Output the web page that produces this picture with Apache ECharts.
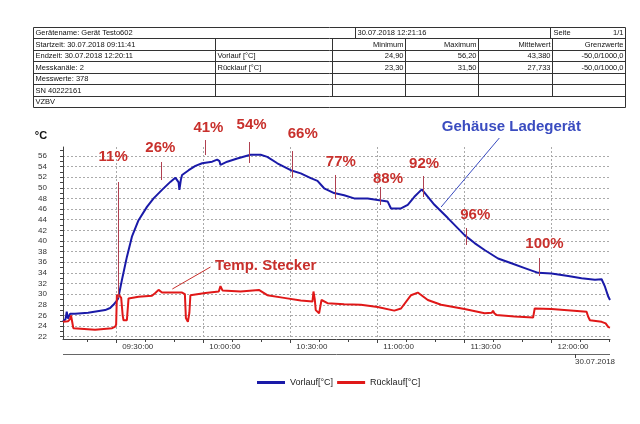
<!DOCTYPE html>
<html><head><meta charset="utf-8">
<script src="https://cdn.jsdelivr.net/npm/echarts@6/dist/echarts.min.js"></script>
<style>html,body{margin:0;padding:0;background:#fff}#c{width:640px;height:424px}</style>
</head><body><div id="c"></div>
<script>
// ---------- data ----------
const vorlaufTimes = ['09:11:41','09:12:33','09:12:58','09:13:25','09:14:06','09:15:50','09:20:20','09:26:12','09:27:56','09:29:04','09:30:15','09:30:42','09:31:58','09:33:42','09:35:26','09:37:43','09:40:37','09:42:54','09:45:48','09:48:40','09:50:24','09:51:05','09:51:32','09:51:47','09:52:18','09:52:43','09:55:00','09:57:19','09:59:38','10:03:05','10:04:49','10:05:37','10:05:57','10:08:16','10:11:44','10:16:19','10:19:47','10:22:05','10:25:33','10:30:09','10:33:37','10:37:04','10:39:23','10:41:40','10:45:07','10:48:34','10:52:02','10:56:40','11:00:07','11:03:35','11:04:43','11:08:10','11:10:29','11:12:46','11:15:20','11:19:41','11:24:19','11:30:04','11:33:31','11:36:58','11:41:36','11:46:12','11:50:48','11:55:25','12:00:01','12:05:47','12:10:23','12:14:59','12:17:18','12:18:27','12:19:37','12:20:11'];
const vorlaufValues = [24.9,25.3,26.7,25.4,26.3,26.3,26.5,27.0,27.4,28.0,28.8,29.2,32.6,37.0,40.8,43.9,46.4,48.0,49.6,51.1,51.9,52.1,51.0,49.6,51.5,52.4,53.3,54.1,54.6,54.9,55.3,55.0,54.3,54.9,55.5,56.2,56.2,55.8,54.6,53.3,52.7,51.8,51.3,49.9,49.0,48.6,48.0,48.0,47.7,47.4,46.1,46.1,46.8,48.3,49.7,46.8,44.3,41.1,39.6,38.3,36.7,35.8,34.9,34.0,33.9,33.4,33.0,32.7,32.8,31.4,29.5,28.9];

const ruecklaufTimes = ['09:11:41','09:13:25','09:14:06','09:14:27','09:14:47','09:15:14','09:15:50','09:22:44','09:28:37','09:29:40','09:30:00','09:30:15','09:31:02','09:31:44','09:32:15','09:32:32','09:33:42','09:34:16','09:37:43','09:42:20','09:43:29','09:44:37','09:45:48','09:52:43','09:53:41','09:54:02','09:54:43','09:55:14','09:55:35','10:00:46','10:05:22','10:05:57','10:06:38','10:12:52','10:19:11','10:22:05','10:27:50','10:33:37','10:37:39','10:38:00','10:38:27','10:38:47','10:39:56','10:40:46','10:42:50','10:48:34','10:54:20','11:00:07','11:05:51','11:08:10','11:11:37','11:13:56','11:17:24','11:21:59','11:30:03','11:36:58','11:39:27','11:39:52','11:40:19','11:41:01','11:47:20','11:53:41','11:54:14','12:00:01','12:12:07','12:12:38','12:13:16','12:17:18','12:18:41','12:19:37','12:20:11'];
const ruecklaufValues = [24.8,24.9,25.3,26.0,25.0,23.6,23.4,23.3,23.6,23.9,24.3,29.8,29.8,29.3,26.0,25.1,25.1,29.2,29.5,29.7,30.2,30.8,30.3,30.3,30.0,25.5,24.8,26.5,29.8,30.2,30.5,31.5,30.7,30.5,30.8,29.8,29.3,28.8,28.6,30.5,29.0,27.0,26.4,28.9,28.3,28.1,28.0,27.6,26.9,27.3,29.8,30.3,28.9,28.0,27.2,26.4,26.5,26.9,26.4,26.1,25.8,25.6,27.3,27.2,26.7,25.8,25.1,24.8,24.5,23.8,23.7];

const seriesNames = ['Vorlauf[°C]', 'Rücklauf[°C]'];
const startTime = '09:11:41';
const endTime = '12:20:11';
const xTickLabels = ['09:30:00','10:00:00','10:30:00','11:00:00','11:30:00','12:00:00'];
const yTickLabels = [22,24,26,28,30,32,34,36,38,40,42,44,46,48,50,52,54,56];
const dateLabel = '30.07.2018';

const percentLabels = ['11%','26%','41%','54%','66%','77%','88%','92%','96%','100%'];
const percentLabelTimes = ['09:28:58','09:45:13','10:01:48','10:16:40','10:34:18','10:47:26','11:03:41','11:16:07','11:33:45','11:57:36'];
const percentLabelValues = [55.78,57.47,61.23,61.79,60.1,54.84,51.64,54.47,44.88,39.42];
const markTimes = ['09:30:15','09:45:02','10:00:25','10:15:32','10:30:23','10:44:55','11:00:28','11:15:26','11:30:17','11:55:25'];
const markTop = [51.08,54.84,58.97,58.6,56.9,52.4,50.14,52.21,42.43,36.79];
const markBottom = [29.27,51.45,56.15,54.65,51.83,47.88,46.76,48.26,39.24,33.41];

const calloutTexts = ['Gehäuse Ladegerät','Temp. Stecker'];
const calloutTextTimes = ['11:46:11','10:21:31'];
const calloutTextValues = [61.42,35.38];
const calloutFromTimes = ['11:42:03','10:02:30'];
const calloutFromValues = [59.35,35.1];
const calloutToTimes = ['11:21:59','09:49:22'];
const calloutToValues = [46.38,30.97];

const tableRow0 = ['Gerätename: Gerät Testo602','30.07.2018 12:21:16','Seite','1/1'];
const tableRows = [
  ['Startzeit: 30.07.2018 09:11:41','','Minimum','Maximum','Mittelwert','Grenzwerte'],
  ['Endzeit: 30.07.2018 12:20:11','Vorlauf [°C]','24,90','56,20','43,380','-50,0/1000,0'],
  ['Messkanäle: 2','Rücklauf [°C]','23,30','31,50','27,733','-50,0/1000,0'],
  ['Messwerte: 378','','','','',''],
  ['SN 40222161','','','','','']
];
const tableLastRow = 'VZBV';

// ---------- helpers ----------
function toMin(s){ const p = s.split(':').map(Number); return p[0]*60 + p[1] + (p[2]||0)/60; }
const xMin = toMin(startTime), xMax = toMin(endTime);
const yMin = 21.57, yMax = 57.66;
const majorX = xTickLabels.map(toMin);
const minorX = []; for (let m = 560; m <= 740; m += 10) minorX.push(m);
const minorY = []; for (let v = 22; v <= 57; v++) minorY.push(v);
function fmt(m){ const h = Math.floor(m/60), mm = Math.round(m%60); return String(h).padStart(2,'0')+':'+String(mm).padStart(2,'0')+':00'; }

const FONT = '"Liberation Sans", Arial, sans-serif';
const BLUE = '#1a1aa8', RED = '#e01818', ANN = '#c8302c', MARK = '#b04050';
const gridBox = { left: 63, top: 147, width: 547, height: 192 };

const chart = echarts.init(document.getElementById('c'), null, { renderer: 'canvas' });
chart.setOption({
  animation: false,
  backgroundColor: '#fff',
  textStyle: { fontFamily: FONT },
  grid: [Object.assign({}, gridBox), Object.assign({}, gridBox)],
  xAxis: [
    { type: 'value', gridIndex: 0, min: xMin, max: xMax,
      axisLine: { show: true, lineStyle: { color: '#444', width: 1 } },
      axisTick: { show: true, customValues: majorX, length: 4, lineStyle: { color: '#444' } },
      axisLabel: { customValues: majorX, formatter: fmt, align: 'left', padding: [0,0,0,6], fontSize: 8, color: '#333', margin: 4 },
      splitLine: { show: true, lineStyle: { type: [2,2], color: '#aaa', width: 1 } } },
    { type: 'value', gridIndex: 1, min: xMin, max: xMax,
      axisLine: { show: false },
      axisTick: { show: true, customValues: minorX, length: 3, lineStyle: { color: '#444' } },
      axisLabel: { show: false }, splitLine: { show: false } }
  ],
  yAxis: [
    { type: 'value', gridIndex: 0, min: yMin, max: yMax,
      axisLine: { show: true, lineStyle: { color: '#444', width: 1 } },
      axisTick: { show: true, customValues: yTickLabels, length: 3, lineStyle: { color: '#444' } },
      axisLabel: { customValues: yTickLabels, fontSize: 8, color: '#333', margin: 16 },
      splitLine: { show: true, lineStyle: { type: [2,2], color: '#aaa', width: 1 } } },
    { type: 'value', gridIndex: 1, min: yMin, max: yMax,
      axisLine: { show: false },
      axisTick: { show: true, customValues: minorY, length: 3, lineStyle: { color: '#444' } },
      axisLabel: { show: false }, splitLine: { show: false } }
  ],
  legend: {
    data: seriesNames, left: 252, top: 373, icon: 'rect', itemWidth: 28, itemHeight: 3, itemGap: 4,
    textStyle: { fontSize: 9, color: '#222', fontFamily: FONT }
  },
  series: [
    { name: seriesNames[0], type: 'line', xAxisIndex: 0, yAxisIndex: 0, showSymbol: false, symbol: 'none',
      lineStyle: { color: BLUE, width: 2 }, itemStyle: { color: BLUE },
      data: vorlaufTimes.map((t,i) => [toMin(t), vorlaufValues[i]]) },
    { name: seriesNames[1], type: 'line', xAxisIndex: 0, yAxisIndex: 0, showSymbol: false, symbol: 'none',
      lineStyle: { color: RED, width: 2 }, itemStyle: { color: RED },
      data: ruecklaufTimes.map((t,i) => [toMin(t), ruecklaufValues[i]]) }
  ]
});

// ---------- annotations & table ----------
const P = (t, v) => chart.convertToPixel({ gridIndex: 0 }, [toMin(t), v]);
const g = [];
percentLabels.forEach((lab, i) => {
  const a = P(markTimes[i], markTop[i]), b = P(markTimes[i], markBottom[i]);
  const mx = Math.round(a[0]) + 1.5;
  g.push({ type: 'line', shape: { x1: mx, y1: a[1], x2: mx, y2: b[1] }, style: { stroke: MARK, lineWidth: 1 }, z: 50 });
  const c = P(percentLabelTimes[i], percentLabelValues[i]);
  g.push({ type: 'text', x: c[0], y: c[1], style: { text: lab, fill: ANN, font: 'bold 15px ' + FONT, align: 'center', verticalAlign: 'middle' }, z: 51 });
});
const calloutColors = ['#3a4cc0', '#c8302c'];
calloutTexts.forEach((txt, i) => {
  const a = P(calloutFromTimes[i], calloutFromValues[i]), b = P(calloutToTimes[i], calloutToValues[i]);
  g.push({ type: 'line', shape: { x1: a[0], y1: a[1], x2: b[0], y2: b[1] }, style: { stroke: calloutColors[i], lineWidth: 1 }, z: 50 });
  const c = P(calloutTextTimes[i], calloutTextValues[i]);
  g.push({ type: 'text', x: c[0], y: c[1], style: { text: txt, fill: calloutColors[i], font: 'bold 15px ' + FONT, align: 'center', verticalAlign: 'middle' }, z: 51 });
});
// axis unit
g.push({ type: 'text', x: 41, y: 136, style: { text: '°C', fill: '#111', font: 'bold 11px ' + FONT, align: 'center', verticalAlign: 'middle' } });
// date axis line
g.push({ type: 'line', shape: { x1: 63, y1: 354.5, x2: 610, y2: 354.5 }, style: { stroke: '#666', lineWidth: 1 } });
g.push({ type: 'line', shape: { x1: 575.5, y1: 354, x2: 575.5, y2: 358 }, style: { stroke: '#444', lineWidth: 1 } });
g.push({ type: 'text', x: 575, y: 362, style: { text: dateLabel, fill: '#333', font: '8px ' + FONT, align: 'left', verticalAlign: 'middle' } });

// table
const TL = 33.5, TR = 625.5;
const rowsY = [27.5, 38.5, 50.5, 61.5, 73.5, 84.5, 96.5, 107.5];
const colX = [TL, 215.5, 332.5, 405.5, 478.5, 552.5, TR];
const TS = { fill: '#111', font: '7.5px ' + FONT, verticalAlign: 'middle' };
g.push({ type: 'rect', shape: { x: TL, y: rowsY[0], width: TR - TL, height: rowsY[7] - rowsY[0] }, style: { fill: 'none', stroke: '#333', lineWidth: 1 } });
for (let i = 1; i < 7; i++) g.push({ type: 'line', shape: { x1: TL, y1: rowsY[i], x2: TR, y2: rowsY[i] }, style: { stroke: '#333', lineWidth: 1 } });
[355.5, 550.5].forEach(x => g.push({ type: 'line', shape: { x1: x, y1: rowsY[0], x2: x, y2: rowsY[1] }, style: { stroke: '#333', lineWidth: 1 } }));
const r0c = (rowsY[0] + rowsY[1]) / 2;
g.push({ type: 'text', x: TL + 2, y: r0c, style: Object.assign({ text: tableRow0[0], align: 'left' }, TS) });
g.push({ type: 'text', x: 357.5, y: r0c, style: Object.assign({ text: tableRow0[1], align: 'left' }, TS) });
g.push({ type: 'text', x: 553.5, y: r0c, style: Object.assign({ text: tableRow0[2], align: 'left' }, TS) });
g.push({ type: 'text', x: TR - 2, y: r0c, style: Object.assign({ text: tableRow0[3], align: 'right' }, TS) });
tableRows.forEach((row, r) => {
  const y0 = rowsY[r + 1], y1 = rowsY[r + 2], yc = (y0 + y1) / 2;
  for (let k = 1; k < 6; k++) g.push({ type: 'line', shape: { x1: colX[k], y1: y0, x2: colX[k], y2: y1 }, style: { stroke: '#333', lineWidth: 1 } });
  row.forEach((cell, k) => {
    if (!cell) return;
    const left = k < 2;
    g.push({ type: 'text', x: left ? colX[k] + 2 : colX[k + 1] - 2, y: yc, style: Object.assign({ text: cell, align: left ? 'left' : 'right' }, TS) });
  });
});
g.push({ type: 'text', x: TL + 2, y: (rowsY[6] + rowsY[7]) / 2, style: Object.assign({ text: tableLastRow, align: 'left' }, TS) });

chart.setOption({ graphic: g });
</script>
</body></html>
